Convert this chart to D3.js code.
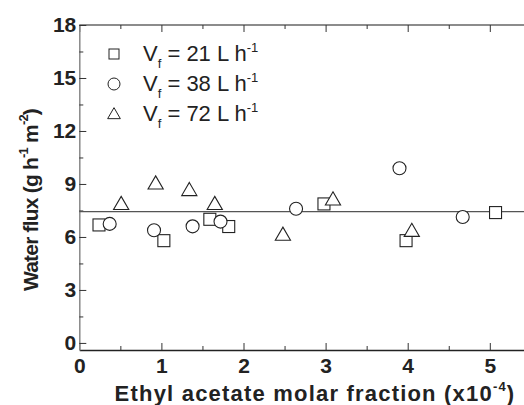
<!DOCTYPE html>
<html>
<head>
<meta charset="utf-8">
<script src="https://cdn.jsdelivr.net/npm/d3@7"></script>
<style>
  body { margin: 0; background: #fff; }
  svg { font-family: Arial, "Liberation Sans", sans-serif; }
</style>
</head>
<body>
<svg width="524" height="405"></svg>
<script>
// Ethyl acetate molar fraction (x10^-4) vs water flux
const sqX = [0.24, 1.03, 1.59, 1.82, 2.98, 3.98, 5.07];
const sqY = [6.68, 5.79, 7.0, 6.59, 7.87, 5.79, 7.38];
const ciX = [0.37, 0.91, 1.38, 1.72, 2.64, 3.90, 4.67];
const ciY = [6.74, 6.38, 6.6, 6.87, 7.6, 9.89, 7.13];
const trX = [0.51, 0.93, 1.34, 1.65, 2.48, 3.09, 4.05];
const trY = [7.8, 8.96, 8.59, 7.8, 6.06, 8.06, 6.28];
const meanFlux = 7.43;
const legendRates = ["21", "38", "72"];
const xTicks = [0, 1, 2, 3, 4, 5];
const yTicks = [0, 3, 6, 9, 12, 15, 18];

const svg = d3.select("svg");
const padL = 79.3, padT = 25, padB = 350;

const x = d3.scaleLinear().domain([0, 5.5]).range([padL, padL + 82.1 * 5.5]);
const y = d3.scaleLinear().domain([-0.4, 18]).range([padB, padT]);

// top frame line
svg.append("line")
  .attr("x1", padL).attr("x2", 524).attr("y1", padT).attr("y2", padT)
  .attr("stroke", "#666").attr("stroke-width", 1.5);

// top ticks
const topAxis = svg.append("g").attr("transform", "translate(0," + padT + ")")
  .call(d3.axisTop(x).tickValues(xTicks).tickSize(-7).tickSizeOuter(0).tickFormat(""));
topAxis.select(".domain").remove();
const topMinor = svg.append("g").attr("transform", "translate(0," + padT + ")")
  .call(d3.axisTop(x).tickValues(d3.range(0.5, 5.5, 1)).tickSize(-4).tickSizeOuter(0).tickFormat(""));
topMinor.select(".domain").remove();

// bottom axis
const xAxis = svg.append("g").attr("transform", "translate(0," + padB + ")")
  .call(d3.axisBottom(x).tickValues(xTicks).tickSize(-7).tickSizeOuter(0).tickPadding(8)
    .tickFormat(d3.format("d")));
xAxis.select(".domain").attr("stroke", "#222").attr("stroke-width", 1.5);
xAxis.selectAll("text").attr("font-size", 21).attr("font-weight", "bold").attr("fill", "#222");
const xMinor = svg.append("g").attr("transform", "translate(0," + padB + ")")
  .call(d3.axisBottom(x).tickValues(d3.range(0.5, 5.5, 1)).tickSize(-4).tickSizeOuter(0).tickFormat(""));
xMinor.select(".domain").remove();

// left axis
const yAxis = svg.append("g").attr("transform", "translate(" + padL + ",0)")
  .call(d3.axisLeft(y).tickValues(yTicks).tickSize(-7).tickSizeOuter(0).tickPadding(3));
yAxis.select(".domain").attr("stroke", "#888").attr("stroke-width", 1.5);
yAxis.selectAll("text").attr("font-size", 21).attr("font-weight", "bold").attr("fill", "#222");
const yMinor = svg.append("g").attr("transform", "translate(" + padL + ",0)")
  .call(d3.axisLeft(y).tickValues(d3.range(1.5, 18, 3)).tickSize(-4).tickSizeOuter(0).tickFormat(""));
yMinor.select(".domain").remove();

svg.selectAll(".tick line").attr("stroke", "#333");

// mean line
svg.append("line")
  .attr("x1", padL).attr("x2", 524)
  .attr("y1", y(meanFlux)).attr("y2", y(meanFlux))
  .attr("stroke", "#555").attr("stroke-width", 1.3);

const mk = { fill: "#fff", stroke: "#222", sw: 1.1 };

svg.append("g").selectAll("rect").data(d3.zip(sqX, sqY)).join("rect")
  .attr("x", d => x(d[0]) - 6).attr("y", d => y(d[1]) - 6)
  .attr("width", 12).attr("height", 12)
  .attr("fill", mk.fill).attr("stroke", mk.stroke).attr("stroke-width", mk.sw);

svg.append("g").selectAll("circle").data(d3.zip(ciX, ciY)).join("circle")
  .attr("cx", d => x(d[0])).attr("cy", d => y(d[1])).attr("r", 6.5)
  .attr("fill", mk.fill).attr("stroke", mk.stroke).attr("stroke-width", mk.sw);

const tri = d3.symbol().type(d3.symbolTriangle).size(100);
svg.append("g").selectAll("path").data(d3.zip(trX, trY)).join("path")
  .attr("transform", d => "translate(" + x(d[0]) + "," + y(d[1]) + ")")
  .attr("d", tri)
  .attr("fill", mk.fill).attr("stroke", mk.stroke).attr("stroke-width", mk.sw);

// legend
const legend = svg.append("g");
const rowY = [54, 84, 114];
legendRates.forEach((r, i) => {
  const cy = rowY[i];
  if (i === 0) legend.append("rect").attr("x", 109).attr("y", cy - 5).attr("width", 10).attr("height", 10)
    .attr("fill", "#fff").attr("stroke", "#222").attr("stroke-width", 1);
  if (i === 1) legend.append("circle").attr("cx", 114).attr("cy", cy).attr("r", 6)
    .attr("fill", "#fff").attr("stroke", "#222").attr("stroke-width", 1);
  if (i === 2) legend.append("path").attr("transform", "translate(114," + (cy + 1) + ")")
    .attr("d", d3.symbol().type(d3.symbolTriangle).size(70))
    .attr("fill", "#fff").attr("stroke", "#222").attr("stroke-width", 1);
  const t = legend.append("text").attr("x", 143).attr("y", cy + 7)
    .attr("font-size", 22).attr("fill", "#222");
  t.append("tspan").text("V");
  t.append("tspan").attr("font-size", 13).attr("dy", 7).text("f");
  t.append("tspan").attr("dy", -7).text(" = " + r + " L h");
  t.append("tspan").attr("font-size", 13).attr("dy", -9).text("-1");
});

// axis titles
const xt = svg.append("text").attr("x", 315).attr("y", 401).attr("text-anchor", "middle")
  .attr("font-size", 22).attr("font-weight", "bold").attr("letter-spacing", 1.2).attr("fill", "#222");
xt.append("tspan").text("Ethyl acetate molar fraction (x10");
xt.append("tspan").attr("font-size", 13).attr("dy", -10).text("-4");
xt.append("tspan").attr("dy", 10).text(")");

const yt = svg.append("text").attr("transform", "translate(38,200) rotate(-90)")
  .attr("text-anchor", "middle")
  .attr("font-size", 21).attr("font-weight", "bold").attr("letter-spacing", -0.8).attr("fill", "#222");
yt.append("tspan").text("Water flux (g h");
yt.append("tspan").attr("font-size", 13).attr("dy", -10).text("-1");
yt.append("tspan").attr("dy", 10).text(" m");
yt.append("tspan").attr("font-size", 13).attr("dy", -10).text("-2");
yt.append("tspan").attr("dy", 10).text(")");
</script>
</body>
</html>
